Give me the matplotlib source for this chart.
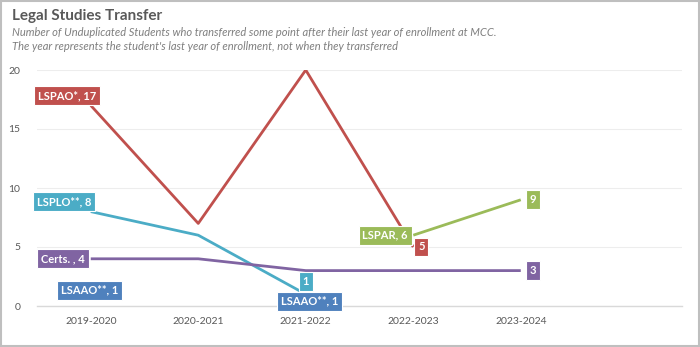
import numpy as np
import matplotlib.pyplot as plt
from matplotlib.patches import Rectangle

plt.rcParams['font.family'] = ['Lato', 'DejaVu Sans']

# Data
years = ['2019-2020', '2020-2021', '2021-2022', '2022-2023', '2023-2024']
lspao = [17, 7, 20, 5, np.nan]
lsplo = [8, 6, 1, np.nan, np.nan]
certs = [4, 4, 3, 3, 3]
lsaao = [1, np.nan, 1, np.nan, np.nan]
lspar = [np.nan, np.nan, np.nan, 6, 9]

series = [
    # name, values, color, first-label offset, last-label offset (pixels), name on last label
    ('LSPAO*', lspao, '#C0504D', (-24, 10), (8, 0), False),
    ('LSPLO**', lsplo, '#4BACC6', (-27, 10), (0, 13), False),
    ('Certs. ', certs, '#8064A2', (-28, 0), (12, 0), False),
    ('LSAAO**', lsaao, '#4F81BD', (-1, 4), (4, -7), True),
    ('LSPAR', lspar, '#9BBB59', (-28, 0), (12, 0), False),
]

fig = plt.figure(figsize=(7, 3.47), dpi=100)
ax = fig.add_axes([37 / 700, 1 - 306 / 347, (682 - 37) / 700, (306 - 70) / 347])

x = np.arange(len(years))
for name, vals, color, off_first, off_last, name_last in series:
    v = np.array(vals, dtype=float)
    ax.plot(x, v, color=color, lw=2, solid_capstyle='butt', zorder=3)
    idx = np.where(~np.isnan(v))[0]
    i0, i1 = idx[0], idx[-1]
    box = dict(boxstyle='square,pad=0.35', fc=color, ec='white', lw=0.8)
    ax.annotate(f'{name}, {int(v[i0])}', (i0, v[i0]), xytext=off_first,
                textcoords='offset pixels', ha='center', va='center',
                color='white', fontsize=8, fontweight='bold', bbox=box, zorder=5)
    last_txt = f'{name}, {int(v[i1])}' if name_last else f'{int(v[i1])}'
    ax.annotate(last_txt, (i1, v[i1]), xytext=off_last,
                textcoords='offset pixels', ha='center', va='center',
                color='white', fontsize=8, fontweight='bold', bbox=box, zorder=5)

ax.set_xlim(-0.5, 5.5)
ax.set_ylim(0, 20)
ax.set_xticks(x)
ax.set_xticklabels(years)
ax.set_yticks([0, 5, 10, 15, 20])
ax.tick_params(length=0, labelsize=7.5, labelcolor='#595959')
ax.tick_params(axis='x', pad=8)
ax.tick_params(axis='y', pad=12)
ax.grid(axis='y', color='#EDEDED', lw=0.8)
ax.set_axisbelow(True)
for s in ['top', 'right', 'left']:
    ax.spines[s].set_visible(False)
ax.spines['bottom'].set_color('#D9D9D9')
ax.spines['bottom'].set_linewidth(1)

fig.text(12 / 700, 1 - 16 / 347, 'Legal Studies Transfer', fontsize=11,
         fontweight='bold', color='#595959', va='center')
fig.text(12 / 700, 1 - 32 / 347,
         'Number of Unduplicated Students who transferred some point after their last year of enrollment at MCC.',
         fontsize=8, style='italic', color='#7F7F7F', va='center')
fig.text(12 / 700, 1 - 46 / 347,
         "The year represents the student's last year of enrollment, not when they transferred",
         fontsize=8, style='italic', color='#7F7F7F', va='center')

fig.patches.append(Rectangle((0.001, 0.002), 0.997, 0.995, transform=fig.transFigure,
                             fill=False, ec='#BFBFBF', lw=1.5))

fig.savefig('out.png', dpi=100)
